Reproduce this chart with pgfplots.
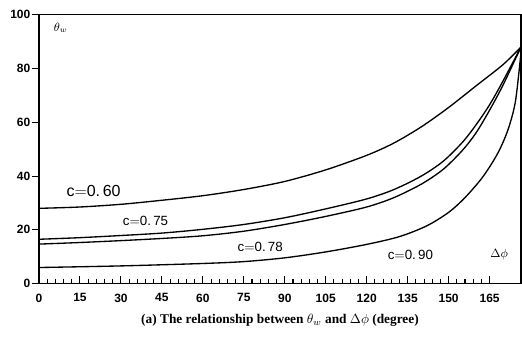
\documentclass[border=0pt]{standalone}
\usepackage{fontspec}
\setmainfont{Liberation Serif}
\setsansfont{Liberation Sans}
\usepackage{pgfplots}
\pgfplotsset{compat=1.18}
\begin{document}
\begin{tikzpicture}
\begin{axis}[
  scale only axis, width=361.5pt, height=201.75pt,
  at={(0,0)}, anchor=south west,
  xmin=0, xmax=176.5, ymin=0, ymax=100,
  axis line style={line width=1.1pt},
  xtick={0,15,...,165}, minor x tick num=4,
  ytick={0,20,...,100},
  xtick pos=bottom, ytick pos=left,
  tick align=inside,
  major tick length=5.5pt, minor tick length=3.5pt,
  every tick/.style={black, line width=0.8pt},
  ytick style={xshift=-5.5pt},
  xticklabel style={yshift=-4pt},
  yticklabel style={xshift=-3pt},
  /pgf/number format/assume math mode=true,
  ticklabel style={font=\sffamily\bfseries\small},
  xlabel={\bfseries (a) The relationship between $\theta_w$ and $\Delta\phi$ (degree)},
  xlabel style={font=\rmfamily\normalsize, yshift=-2pt},
  clip=true,
]
\addplot[black, line width=1pt, smooth] coordinates {(0,28)(15,28.5)(30,29.5)(45,31)(60,32.7)(75,35)(90,38)(105,42.3)(120,47.7)(130,52.3)(140,58.3)(150,65.5)(160,73.5)(170,81.5)(176.5,88)};
\addplot[black, line width=1pt, smooth] coordinates {(0,16.5)(15,17.1)(30,17.9)(45,18.8)(60,20.2)(75,22)(90,24.5)(105,27.8)(120,31.5)(130,35)(140,40)(148,45.5)(155,52.5)(160,59)(165,66.5)(170,75.5)(176.5,88)};
\addplot[black, line width=1pt, smooth] coordinates {(0,14.7)(15,15.3)(30,16)(45,16.8)(60,17.8)(75,19.5)(90,22)(105,25)(120,28.5)(130,32)(140,37)(148,42.5)(155,49.5)(160,56)(165,64.5)(170,74)(176.5,88)};
\addplot[black, line width=1pt, smooth] coordinates {(0,6)(30,6.6)(60,7.5)(75,8.2)(90,9.6)(105,11.8)(120,14.6)(132,17.5)(142,21.5)(150,26.5)(156,32)(162,39)(166,45)(169,50.5)(172,58)(174.5,68)(176.5,86)};
\node[font=\sffamily\large] at (axis cs:20,34.5) {c$=$0.\,60};
\node[font=\sffamily] at (axis cs:39,23.5) {c$=$0.\,75};
\node[font=\sffamily] at (axis cs:81,13.8) {c$=$0.\,78};
\node[font=\sffamily] at (axis cs:136,10.8) {c$=$0.\,90};
\node[font=\small] at (axis cs:168.5,10.8) {$\Delta\phi$};
\node[font=\small] at (axis cs:8,95) {$\theta_w$};
\end{axis}
\pgfresetboundingbox
\path[use as bounding box] (-29.25pt,-46pt) rectangle (362.25pt,212.75pt);
\end{tikzpicture}
\end{document}
